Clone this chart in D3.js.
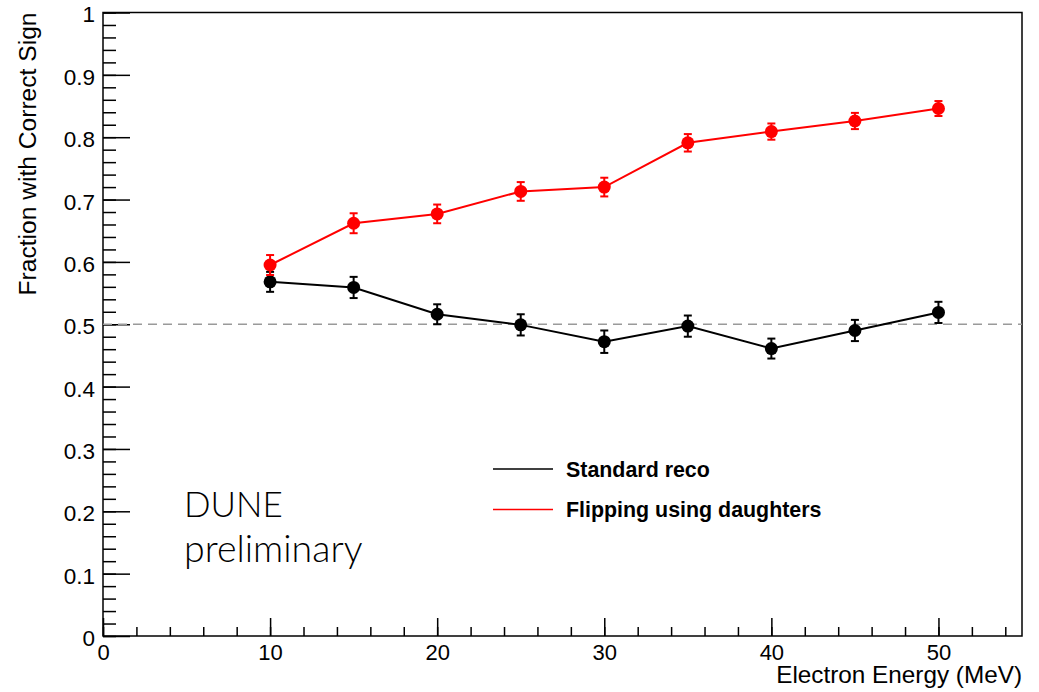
<!DOCTYPE html>
<html>
<head>
<meta charset="utf-8">
<script src="https://cdn.jsdelivr.net/npm/d3@7"></script>
<style>
  html, body { margin: 0; padding: 0; background: #fff; }
  svg { display: block; }
  text { font-family: "Liberation Sans", Arial, Helvetica, sans-serif; fill: #000; }
</style>
</head>
<body>
<svg></svg>
<script>
const width = 1039;
const height = 692;
const svg = d3.select("svg").attr("width", width).attr("height", height);

// data
const energies = [10, 15, 20, 25, 30, 35, 40, 45, 50];
const standardReco = [0.568, 0.559, 0.516, 0.499, 0.472, 0.497, 0.461, 0.490, 0.519];
const standardErr = [0.016, 0.017, 0.016, 0.017, 0.018, 0.017, 0.016, 0.017, 0.017];
const flipping = [0.595, 0.662, 0.677, 0.713, 0.720, 0.791, 0.809, 0.826, 0.846];
const flippingErr = [0.016, 0.016, 0.015, 0.015, 0.015, 0.014, 0.013, 0.013, 0.012];

const xMajor = [0, 10, 20, 30, 40, 50];
const xMinor = d3.range(0, 55, 2);
const yMajor = [0, 0.1, 0.2, 0.3, 0.4, 0.5, 0.6, 0.7, 0.8, 0.9, 1];
const yMinor = d3.range(0, 51).map(i => i * 0.02);

const seriesNames = ["Standard reco", "Flipping using daughters"];
const seriesColors = ["#000000", "#ff0000"];

// plot frame
const plotLeft = 103, plotRight = 1022, plotTop = 12.5, plotBottom = 636;
const x = d3.scaleLinear().domain([0, 55]).range([plotLeft, plotRight]);
const y = d3.scaleLinear().domain([0, 1]).range([plotBottom, plotTop]);

// frame box
svg.append("rect")
    .attr("x", plotLeft).attr("y", plotTop)
    .attr("width", plotRight - plotLeft).attr("height", plotBottom - plotTop)
    .attr("fill", "none").attr("stroke", "#000").attr("stroke-width", 1.5);

// y axis (ticks pointing inwards)
const yMinorAxis = svg.append("g")
    .attr("transform", `translate(${plotLeft},0)`)
    .call(d3.axisLeft(y).tickValues(yMinor).tickSize(-13).tickFormat(""));
const yMajorAxis = svg.append("g")
    .attr("transform", `translate(${plotLeft},0)`)
    .call(d3.axisLeft(y).tickValues(yMajor).tickSize(-27).tickPadding(8)
        .tickFormat(d => d === 0 || d === 1 ? d3.format("d")(d) : d3.format(".1f")(d)));

// x axis
const xMinorAxis = svg.append("g")
    .attr("transform", `translate(0,${plotBottom})`)
    .call(d3.axisBottom(x).tickValues(xMinor).tickSize(-9).tickFormat(""));
const xMajorAxis = svg.append("g")
    .attr("transform", `translate(0,${plotBottom})`)
    .call(d3.axisBottom(x).tickValues(xMajor).tickSize(-18).tickPadding(8));

[yMinorAxis, yMajorAxis, xMinorAxis, xMajorAxis].forEach(g => {
    g.select(".domain").remove();
    g.selectAll("line").attr("stroke", "#000").attr("stroke-width", 1.5);
    g.selectAll("text").attr("font-size", 22).attr("font-family", null).attr("fill", "#000");
});
yMajorAxis.selectAll("text").attr("dy", "0.42em").attr("font-size", 22.5);

// axis titles
svg.append("text")
    .attr("transform", `translate(36,${plotTop}) rotate(-90)`)
    .attr("text-anchor", "end")
    .attr("font-size", 24.6)
    .text("Fraction with Correct Sign");

svg.append("text")
    .attr("x", plotRight).attr("y", 683)
    .attr("text-anchor", "end")
    .attr("font-size", 24.3)
    .text("Electron Energy (MeV)");

// reference line at 0.5
svg.append("line")
    .attr("x1", x(0)).attr("x2", x(55))
    .attr("y1", y(0.5)).attr("y2", y(0.5))
    .attr("stroke", "#9a9a9a").attr("stroke-width", 1.5)
    .attr("stroke-dasharray", "9,6");

// series
const series = [
    { values: standardReco, errors: standardErr },
    { values: flipping, errors: flippingErr }
];

const line = d3.line().x(d => x(d.e)).y(d => y(d.v));

series.forEach((s, k) => {
    const color = seriesColors[k];
    const pts = energies.map((e, i) => ({ e: e, v: s.values[i], err: s.errors[i] }));
    const g = svg.append("g");

    g.append("path")
        .datum(pts)
        .attr("d", line)
        .attr("fill", "none")
        .attr("stroke", color)
        .attr("stroke-width", 2);

    // error bars with caps
    g.selectAll("line.err")
        .data(pts).enter().append("line")
        .attr("class", "err")
        .attr("x1", d => x(d.e)).attr("x2", d => x(d.e))
        .attr("y1", d => y(d.v - d.err)).attr("y2", d => y(d.v + d.err))
        .attr("stroke", color).attr("stroke-width", 2);
    ["lo", "hi"].forEach(side => {
        g.selectAll("line.cap-" + side)
            .data(pts).enter().append("line")
            .attr("class", "cap-" + side)
            .attr("x1", d => x(d.e) - 4).attr("x2", d => x(d.e) + 4)
            .attr("y1", d => y(side === "lo" ? d.v - d.err : d.v + d.err))
            .attr("y2", d => y(side === "lo" ? d.v - d.err : d.v + d.err))
            .attr("stroke", color).attr("stroke-width", 2);
    });

    g.selectAll("circle")
        .data(pts).enter().append("circle")
        .attr("cx", d => x(d.e)).attr("cy", d => y(d.v))
        .attr("r", 6.5)
        .attr("fill", color);
});

// legend
const legend = svg.append("g").attr("transform", "translate(493,469)");
seriesNames.forEach((name, i) => {
    legend.append("line")
        .attr("x1", 0).attr("x2", 60)
        .attr("y1", i * 40.5).attr("y2", i * 40.5)
        .attr("stroke", seriesColors[i]).attr("stroke-width", 1.5);
    legend.append("text")
        .attr("x", 73).attr("y", i * 40.5 + 7.5)
        .attr("font-size", 21.4).attr("font-weight", "bold")
        .text(name);
});

// DUNE label
svg.append("text")
    .attr("x", 184).attr("y", 517)
    .attr("font-size", 35).attr("font-weight", 300)
    .style("font-family", "Lato, 'Open Sans', sans-serif")
    .text("DUNE");
svg.append("text")
    .attr("x", 184).attr("y", 562)
    .attr("font-size", 37.5).attr("font-weight", 300)
    .style("font-family", "Lato, 'Open Sans', sans-serif")
    .text("preliminary");
</script>
</body>
</html>
